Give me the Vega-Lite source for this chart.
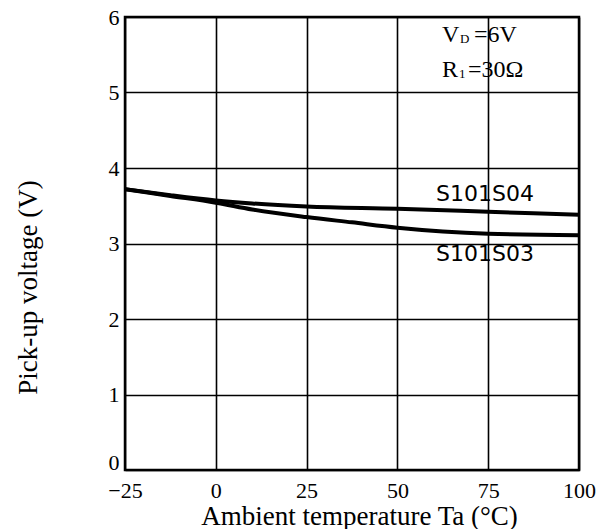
{
  "$schema": "https://vega.github.io/schema/vega-lite/v6.json",
  "autosize": {"type": "none"},
  "width": 454,
  "height": 453,
  "padding": {"left": 125, "top": 17, "right": 18, "bottom": 59},
  "background": "white",
  "config": {
    "view": {"stroke": "black", "strokeWidth": 2.5},
    "font": "Liberation Serif",
    "axis": {
      "labelFont": "Liberation Serif",
      "titleFont": "Liberation Serif",
      "labelColor": "black",
      "titleColor": "black",
      "labelFontSize": 22,
      "titleFontSize": 27,
      "titleFontWeight": "normal",
      "labelFlush": false,
      "labelOverlap": false,
      "format": "d",
      "ticks": false,
      "domain": false,
      "grid": true,
      "gridColor": "black",
      "gridWidth": 1.6,
      "gridOpacity": 1
    }
  },
  "data": {
    "values": [
      {"series": "S101S04", "t": -25, "v": 3.72},
      {"series": "S101S04", "t": -12.5, "v": 3.64},
      {"series": "S101S04", "t": 0, "v": 3.57},
      {"series": "S101S04", "t": 10, "v": 3.53},
      {"series": "S101S04", "t": 25, "v": 3.49},
      {"series": "S101S04", "t": 50, "v": 3.46},
      {"series": "S101S04", "t": 75, "v": 3.42},
      {"series": "S101S04", "t": 100, "v": 3.38},
      {"series": "S101S03", "t": -25, "v": 3.72},
      {"series": "S101S03", "t": -12.5, "v": 3.63},
      {"series": "S101S03", "t": 0, "v": 3.54},
      {"series": "S101S03", "t": 10, "v": 3.45},
      {"series": "S101S03", "t": 25, "v": 3.35},
      {"series": "S101S03", "t": 37.5, "v": 3.28},
      {"series": "S101S03", "t": 50, "v": 3.21},
      {"series": "S101S03", "t": 62.5, "v": 3.16},
      {"series": "S101S03", "t": 75, "v": 3.13},
      {"series": "S101S03", "t": 100, "v": 3.11}
    ]
  },
  "layer": [
    {
      "mark": {"type": "line", "color": "black", "strokeWidth": 4, "interpolate": "monotone", "clip": true},
      "encoding": {
        "x": {
          "field": "t", "type": "quantitative",
          "scale": {"domain": [-25, 100], "nice": false},
          "axis": {"values": [-25, 0, 25, 50, 75, 100], "title": "Ambient temperature Ta (°C)", "labelPadding": 10, "titleX": 234, "titleY": 46, "titleBaseline": "middle", "titleAlign": "center"}
        },
        "y": {
          "field": "v", "type": "quantitative",
          "scale": {"domain": [0, 6], "nice": false},
          "axis": {"values": [0, 1, 2, 3, 4, 5, 6], "title": "Pick-up voltage (V)", "labelPadding": 6, "labelOffset": {"condition": {"test": "datum.value === 0", "value": -8}, "value": 0}, "titleX": -97, "titleY": 270, "titleAngle": -90, "titleBaseline": "middle", "titleAlign": "center"}
        },
        "detail": {"field": "series"}
      }
    },
    {
      "data": {"values": [{"label": "S101S04", "t": 74.1, "v": 3.66}, {"label": "S101S03", "t": 74.1, "v": 2.86}]},
      "mark": {"type": "text", "font": "DejaVu Sans", "fontSize": 22, "color": "black", "align": "center", "baseline": "middle"},
      "encoding": {"x": {"field": "t", "type": "quantitative"}, "y": {"field": "v", "type": "quantitative"}, "text": {"field": "label"}}
    },
    {
      "data": {"values": [{"label": "V", "t": 62.3, "v": 5.76}, {"label": "R", "t": 62.3, "v": 5.30}]},
      "mark": {"type": "text", "fontSize": 24, "color": "black", "align": "left", "baseline": "middle"},
      "encoding": {"x": {"field": "t", "type": "quantitative"}, "y": {"field": "v", "type": "quantitative"}, "text": {"field": "label"}}
    },
    {
      "data": {"values": [{"label": "D", "t": 62.3, "v": 5.76}]},
      "mark": {"type": "text", "fontSize": 13, "color": "black", "align": "left", "baseline": "middle", "dx": 18, "dy": 4},
      "encoding": {"x": {"field": "t", "type": "quantitative"}, "y": {"field": "v", "type": "quantitative"}, "text": {"field": "label"}}
    },
    {
      "data": {"values": [{"label": "1", "t": 62.3, "v": 5.30}]},
      "mark": {"type": "text", "fontSize": 13, "color": "black", "align": "left", "baseline": "middle", "dx": 17, "dy": 4},
      "encoding": {"x": {"field": "t", "type": "quantitative"}, "y": {"field": "v", "type": "quantitative"}, "text": {"field": "label"}}
    },
    {
      "data": {"values": [{"label": "=6V", "t": 62.3, "v": 5.76}]},
      "mark": {"type": "text", "fontSize": 24, "color": "black", "align": "left", "baseline": "middle", "dx": 32},
      "encoding": {"x": {"field": "t", "type": "quantitative"}, "y": {"field": "v", "type": "quantitative"}, "text": {"field": "label"}}
    },
    {
      "data": {"values": [{"label": "=30Ω", "t": 62.3, "v": 5.30}]},
      "mark": {"type": "text", "fontSize": 24, "color": "black", "align": "left", "baseline": "middle", "dx": 26},
      "encoding": {"x": {"field": "t", "type": "quantitative"}, "y": {"field": "v", "type": "quantitative"}, "text": {"field": "label"}}
    }
  ]
}
